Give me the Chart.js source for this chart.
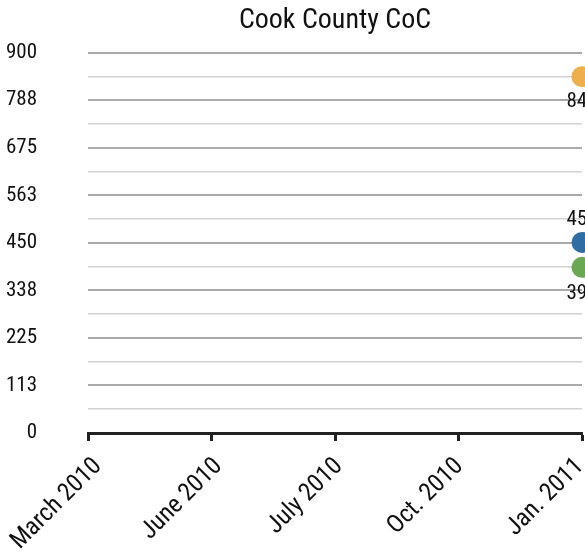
<!DOCTYPE html>
<html>
<head>
<meta charset="utf-8">
<script src="https://cdn.jsdelivr.net/npm/chart.js@4"></script>
<style>
  html, body { margin: 0; padding: 0; background: #fff; overflow: hidden; }
  #wrap { width: 585px; height: 556px; }
</style>
</head>
<body>
<div id="wrap"><canvas id="c"></canvas></div>
<script>
const categories = ["March 2010", "June 2010", "July 2010", "Oct. 2010", "Jan. 2011"];
const totalValues = [null, null, null, null, 843];
const shelteredValues = [null, null, null, null, 451];
const unshelteredValues = [null, null, null, null, 392];
const yMin = 0;
const yMax = 900;
const yStep = 56.25;

const FONT = "'Roboto Condensed', 'DejaVu Sans Condensed', sans-serif";

const valueLabels = {
  id: 'valueLabels',
  afterDatasetsDraw(chart) {
    const ctx = chart.ctx;
    ctx.save();
    ctx.font = "21px " + FONT;
    ctx.fillStyle = '#111';
    ctx.textAlign = 'center';
    ctx.textBaseline = 'middle';
    chart.data.datasets.forEach((ds, i) => {
      const meta = chart.getDatasetMeta(i);
      meta.data.forEach((pt, j) => {
        const v = ds.data[j];
        if (v === null || v === undefined) return;
        ctx.fillText(String(v), pt.x, pt.y + ds.labelOffset);
      });
    });
    ctx.restore();
  }
};

new Chart(document.getElementById('c'), {
  type: 'line',
  data: {
    labels: categories,
    datasets: [
      { label: 'Total', data: totalValues, backgroundColor: '#EEAF4E', borderColor: '#EEAF4E', labelOffset: 25 },
      { label: 'Sheltered', data: shelteredValues, backgroundColor: '#2F6DA3', borderColor: '#2F6DA3', labelOffset: -23 },
      { label: 'Unsheltered', data: unshelteredValues, backgroundColor: '#6AA854', borderColor: '#6AA854', labelOffset: 26 }
    ].map(d => Object.assign(d, { xAxisID: 'x', yAxisID: 'y', showLine: false, pointRadius: 10.5, pointHoverRadius: 10.5, pointBorderWidth: 0, clip: false }))
  },
  options: {
    responsive: true,
    maintainAspectRatio: false,
    animation: false,
    events: [],
    layout: { autoPadding: false, padding: { left: 7, right: 3, top: 0, bottom: 0 } },
    plugins: {
      legend: { display: false },
      tooltip: { enabled: false },
      title: {
        display: true,
        text: 'Cook County CoC',
        fullSize: false,
        color: '#111',
        font: { family: FONT, size: 28, weight: 'normal' },
        padding: { top: 4, bottom: 15 }
      }
    },
    scales: {
      x: {
        type: 'category',
        position: 'bottom',
        weight: 0,
        offset: false,
        grid: { drawOnChartArea: false, drawTicks: true, tickLength: 8, tickWidth: 3, tickColor: '#222' },
        border: { display: true, color: '#222', width: 3 },
        ticks: { display: false, autoSkip: false },
        afterFit(scale) { scale.height = 11; scale.paddingLeft = 0; scale.paddingRight = 0; }
      },
      xlab: {
        type: 'linear',
        position: 'bottom',
        weight: 1,
        min: -0.1,
        max: categories.length - 1,
        grid: { display: false, drawTicks: false },
        border: { display: false },
        ticks: {
          color: '#111',
          font: { family: FONT, size: 25 },
          minRotation: 45, maxRotation: 45, autoSkip: false,
          padding: 8, labelOffset: -2,
          callback: (v) => categories[v] !== undefined ? categories[v] : ''
        },
        afterBuildTicks(scale) { scale.ticks = categories.map((_, i) => ({ value: i })); },
        afterFit(scale) { scale.height = 112; scale.paddingLeft = 0; scale.paddingRight = 0; }
      },
      y: {
        min: yMin,
        max: yMax,
        grid: {
          drawTicks: false,
          color: (c) => c.index === 0 ? 'rgba(0,0,0,0)' : (c.index % 2 === 0 ? '#aaaaaa' : '#d2d2d2'),
          lineWidth: (c) => c.index % 2 === 0 ? 2 : 1.5
        },
        border: { display: false },
        ticks: {
          stepSize: yStep,
          autoSkip: false,
          crossAlign: 'near',
          padding: 51,
          color: '#111',
          font: { family: FONT, size: 21 },
          callback: (v, i) => i % 2 === 0 ? String(Math.round(v)) : ''
        },
        afterFit(scale) { scale.width = 81; scale.paddingTop = 0; scale.paddingBottom = 0; }
      }
    }
  },
  plugins: [valueLabels]
});
</script>
</body>
</html>
